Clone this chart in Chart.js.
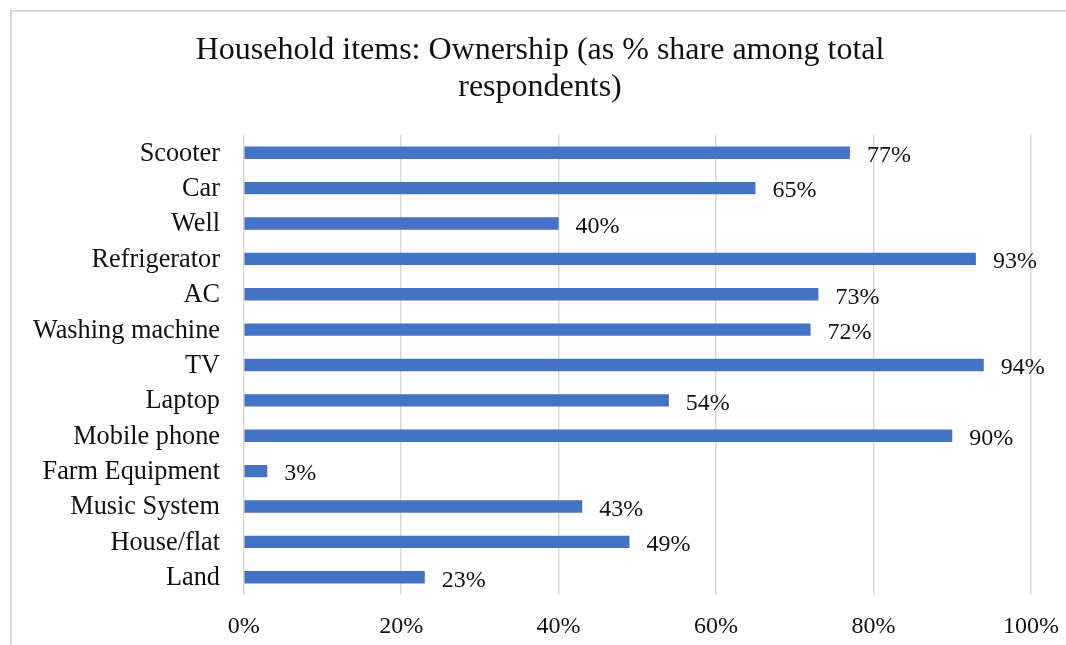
<!DOCTYPE html>
<html>
<head>
<meta charset="utf-8">
<script src="https://cdn.jsdelivr.net/npm/chart.js@4.4.1/dist/chart.umd.min.js"></script>
<style>
  html, body { margin: 0; padding: 0; background: #ffffff; }
  #wrap { position: relative; width: 1066px; height: 645px; }
</style>
</head>
<body>
<div id="wrap"><canvas id="chart"></canvas></div>
<script>
// Household items and the share of respondents owning each (%)
const items = [
  "Scooter", "Car", "Well", "Refrigerator", "AC", "Washing machine", "TV",
  "Laptop", "Mobile phone", "Farm Equipment", "Music System", "House/flat", "Land"
];
const ownershipPct = [77, 65, 40, 93, 73, 72, 94, 54, 90, 3, 43, 49, 23];
const axisTicks = [0, 20, 40, 60, 80, 100];

const titleLines = [
  "Household items: Ownership (as % share among total",
  "respondents)"
];

const FONT = "'Liberation Serif', 'Times New Roman', serif";
const TEXT = "#111111";
const GRID = "#d9d9d9";
const BAR = "#4472c4";

// Light frame around the chart area of the page
const framePlugin = {
  id: "frame",
  beforeDraw(chart) {
    const ctx = chart.ctx;
    ctx.save();
    ctx.fillStyle = GRID;
    ctx.fillRect(10, 10, chart.width - 10, 2);
    ctx.fillRect(10, 10, 2, chart.height - 10);
    ctx.restore();
  }
};

// Value labels to the right of each bar
const valueLabels = {
  id: "valueLabels",
  afterDatasetsDraw(chart) {
    const ctx = chart.ctx;
    const meta = chart.getDatasetMeta(0);
    const xScale = chart.scales.x;
    ctx.save();
    ctx.font = "24px " + FONT;
    ctx.fillStyle = TEXT;
    ctx.textAlign = "left";
    ctx.textBaseline = "middle";
    meta.data.forEach((bar, i) => {
      const v = ownershipPct[i];
      ctx.fillText(v + "%", xScale.getPixelForValue(v) + 17, bar.y + 3);
    });
    ctx.restore();
  }
};

new Chart(document.getElementById("chart"), {
  type: "bar",
  data: {
    labels: items,
    datasets: [{
      data: ownershipPct,
      backgroundColor: BAR,
      borderWidth: 0,
      categoryPercentage: 1,
      barPercentage: 0.35
    }]
  },
  plugins: [framePlugin, valueLabels],
  options: {
    indexAxis: "y",
    responsive: true,
    maintainAspectRatio: false,
    animation: false,
    layout: { padding: { left: 14, right: 0, top: 0, bottom: 0 } },
    plugins: {
      legend: { display: false },
      tooltip: { enabled: false },
      title: {
        display: true,
        text: titleLines,
        color: TEXT,
        font: { family: FONT, size: 32, weight: "normal", lineHeight: 1.15 },
        padding: { top: 32, bottom: 29.4 }
      }
    },
    scales: {
      x: {
        min: 0,
        max: 100,
        afterBuildTicks(scale) {
          scale.ticks = axisTicks.map(v => ({ value: v }));
        },
        afterFit(scale) {
          scale.paddingLeft = 0;
          scale.paddingRight = 35;
          scale.height = 50;
        },
        grid: { color: GRID, lineWidth: 1.5, drawTicks: false },
        border: { display: false },
        ticks: {
          padding: 17,
          color: TEXT,
          font: { family: FONT, size: 24 },
          callback: v => v + "%"
        }
      },
      y: {
        afterFit(scale) {
          scale.width = 229.7;
        },
        grid: { display: false, drawTicks: false },
        border: { display: false },
        ticks: {
          padding: 23.7,
          labelOffset: 1,
          color: TEXT,
          font: { family: FONT, size: 26.3 }
        }
      }
    }
  }
});
</script>
</body>
</html>
